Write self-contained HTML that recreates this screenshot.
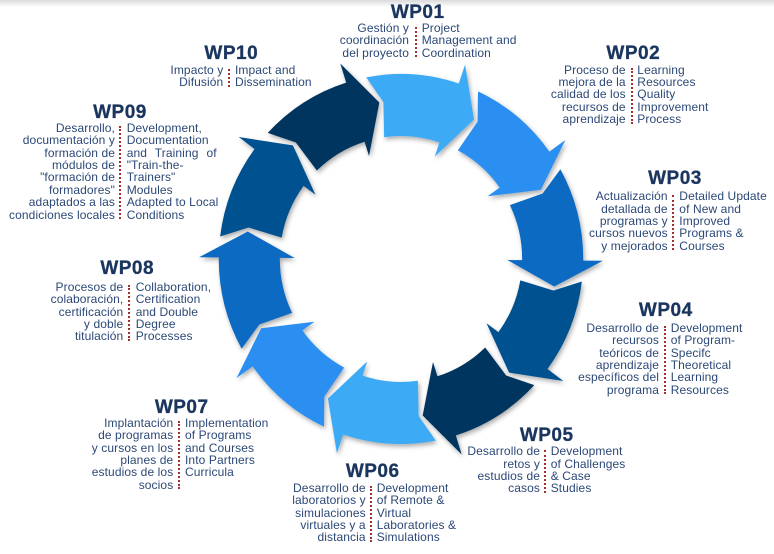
<!DOCTYPE html>
<html><head><meta charset="utf-8"><style>
html,body{margin:0;padding:0}
body{width:774px;height:554px;position:relative;overflow:hidden;background:#fff;font-family:"Liberation Sans",Arial,sans-serif}
.top{position:absolute;left:0;top:0;width:774px;height:7px;background:linear-gradient(#dadada,rgba(255,255,255,0))}
svg{position:absolute;left:0;top:0}
.h{position:absolute;font-weight:bold;font-size:19px;line-height:19px;color:#1a355e;letter-spacing:0.5px;white-space:nowrap;transform:translateX(-50%);-webkit-text-stroke:0.3px #1a355e}
.s,.e{position:absolute;font-size:12px;line-height:12.4px;color:#2c4877;white-space:nowrap;letter-spacing:0.1px}
.s{text-align:right}
.e{text-align:left}
.d{position:absolute;width:0;border-left:2px dotted #a3302f}
.j{display:block;width:90px;text-align:justify;text-align-last:justify}
</style></head><body>
<div class="top"></div>
<svg width="774" height="554" viewBox="0 0 774 554">
<defs>
<filter id="sh" x="-20%" y="-20%" width="140%" height="140%">
<feDropShadow dx="1.5" dy="2.5" stdDeviation="2.5" flood-color="#000" flood-opacity="0.33"/>
</filter>
</defs>
<g transform="translate(401,259) scale(0.985,1)" filter="url(#sh)">
<path fill="#3eaaf6" transform="rotate(0)" d="M-35.30,-181.60 A185,185 0 0 1 58.70,-175.44 L65.05,-194.41 L74.18,-139.51 L34.27,-102.42 L39.03,-116.64 A123,123 0 0 0 -17.12,-121.80 L-17.89,-156.98 Z"/>
<path fill="#2b8ff0" transform="rotate(36)" d="M-35.30,-181.60 A185,185 0 0 1 58.70,-175.44 L65.05,-194.41 L74.18,-139.51 L34.27,-102.42 L39.03,-116.64 A123,123 0 0 0 -17.12,-121.80 L-17.89,-156.98 Z"/>
<path fill="#0a6bc3" transform="rotate(72)" d="M-35.30,-181.60 A185,185 0 0 1 58.70,-175.44 L65.05,-194.41 L74.18,-139.51 L34.27,-102.42 L39.03,-116.64 A123,123 0 0 0 -17.12,-121.80 L-17.89,-156.98 Z"/>
<path fill="#04518f" transform="rotate(108)" d="M-35.30,-181.60 A185,185 0 0 1 58.70,-175.44 L65.05,-194.41 L74.18,-139.51 L34.27,-102.42 L39.03,-116.64 A123,123 0 0 0 -17.12,-121.80 L-17.89,-156.98 Z"/>
<path fill="#03345e" transform="rotate(144)" d="M-35.30,-181.60 A185,185 0 0 1 58.70,-175.44 L65.05,-194.41 L74.18,-139.51 L34.27,-102.42 L39.03,-116.64 A123,123 0 0 0 -17.12,-121.80 L-17.89,-156.98 Z"/>
<path fill="#3eaaf6" transform="rotate(180)" d="M-35.30,-181.60 A185,185 0 0 1 58.70,-175.44 L65.05,-194.41 L74.18,-139.51 L34.27,-102.42 L39.03,-116.64 A123,123 0 0 0 -17.12,-121.80 L-17.89,-156.98 Z"/>
<path fill="#2b8ff0" transform="rotate(216)" d="M-35.30,-181.60 A185,185 0 0 1 58.70,-175.44 L65.05,-194.41 L74.18,-139.51 L34.27,-102.42 L39.03,-116.64 A123,123 0 0 0 -17.12,-121.80 L-17.89,-156.98 Z"/>
<path fill="#0a6bc3" transform="rotate(252)" d="M-35.30,-181.60 A185,185 0 0 1 58.70,-175.44 L65.05,-194.41 L74.18,-139.51 L34.27,-102.42 L39.03,-116.64 A123,123 0 0 0 -17.12,-121.80 L-17.89,-156.98 Z"/>
<path fill="#04518f" transform="rotate(288)" d="M-35.30,-181.60 A185,185 0 0 1 58.70,-175.44 L65.05,-194.41 L74.18,-139.51 L34.27,-102.42 L39.03,-116.64 A123,123 0 0 0 -17.12,-121.80 L-17.89,-156.98 Z"/>
<path fill="#03345e" transform="rotate(324)" d="M-35.30,-181.60 A185,185 0 0 1 58.70,-175.44 L65.05,-194.41 L74.18,-139.51 L34.27,-102.42 L39.03,-116.64 A123,123 0 0 0 -17.12,-121.80 L-17.89,-156.98 Z"/>
</g>
</svg>

<!-- WP01 -->
<div class="h" style="left:417.7px;top:2.5px">WP01</div>
<div class="s" style="right:365px;top:22px">Gestión y<br>coordinación<br>del proyecto</div>
<div class="d" style="left:414.7px;top:26.5px;height:30.7px"></div>
<div class="e" style="left:421.7px;top:22px">Project<br>Management and<br>Coordination</div>

<!-- WP02 -->
<div class="h" style="left:633.3px;top:44.2px">WP02</div>
<div class="s" style="right:148.3px;top:63.5px">Proceso de<br>mejora de la<br>calidad de los<br>recursos de<br>aprendizaje</div>
<div class="d" style="left:630.7px;top:68px;height:55.5px"></div>
<div class="e" style="left:637.3px;top:63.5px">Learning<br>Resources<br>Quality<br>Improvement<br>Process</div>

<!-- WP03 -->
<div class="h" style="left:675px;top:169.2px">WP03</div>
<div class="s" style="right:106.3px;top:190.2px">Actualización<br>detallada de<br>programas y<br>cursos nuevos<br>y mejorados</div>
<div class="d" style="left:672.3px;top:194.7px;height:55.5px"></div>
<div class="e" style="left:679.3px;top:190.2px">Detailed Update<br>of New and<br>Improved<br>Programs &amp;<br>Courses</div>

<!-- WP04 -->
<div class="h" style="left:665.8px;top:300.5px">WP04</div>
<div class="s" style="right:115px;top:321.8px">Desarrollo de<br>recursos<br>teóricos de<br>aprendizaje<br>específicos del<br>programa</div>
<div class="d" style="left:664px;top:326.3px;height:67.9px"></div>
<div class="e" style="left:670.7px;top:321.8px">Development<br>of Program-<br>Specifc<br>Theoretical<br>Learning<br>Resources</div>

<!-- WP05 -->
<div class="h" style="left:546.7px;top:425.8px">WP05</div>
<div class="s" style="right:234px;top:445.2px">Desarrollo de<br>retos y<br>estudios de<br>casos</div>
<div class="d" style="left:544px;top:449.7px;height:43.1px"></div>
<div class="e" style="left:550.7px;top:445.2px">Development<br>of Challenges<br>&amp; Case<br>Studies</div>

<!-- WP06 -->
<div class="h" style="left:372.7px;top:461.5px">WP06</div>
<div class="s" style="right:408.3px;top:481.8px">Desarrollo de<br>laboratorios y<br>simulaciones<br>virtuales y a<br>distancia</div>
<div class="d" style="left:370px;top:486.3px;height:55.5px"></div>
<div class="e" style="left:376.7px;top:481.8px">Development<br>of Remote &amp;<br>Virtual<br>Laboratories &amp;<br>Simulations</div>

<!-- WP07 -->
<div class="h" style="left:181.7px;top:397.5px">WP07</div>
<div class="s" style="right:600.7px;top:416.8px">Implantación<br>de programas<br>y cursos en los<br>planes de<br>estudios de los<br>socios</div>
<div class="d" style="left:178px;top:421.3px;height:67.9px"></div>
<div class="e" style="left:185px;top:416.8px">Implementation<br>of Programs<br>and Courses<br>Into Partners<br>Curricula</div>

<!-- WP08 -->
<div class="h" style="left:127.2px;top:259.2px">WP08</div>
<div class="s" style="right:650.7px;top:280.8px">Procesos de<br>colaboración,<br>certificación<br>y doble<br>titulación</div>
<div class="d" style="left:128.3px;top:285.3px;height:55.5px"></div>
<div class="e" style="left:135.7px;top:280.8px">Collaboration,<br>Certification<br>and Double<br>Degree<br>Processes</div>

<!-- WP09 -->
<div class="h" style="left:120px;top:102.5px">WP09</div>
<div class="s" style="right:659px;top:121.8px">Desarrollo,<br>documentación y<br>formación de<br>módulos de<br>"formación de<br>formadores"<br>adaptados a las<br>condiciones locales</div>
<div class="d" style="left:119px;top:126.3px;height:92.7px"></div>
<div class="e" style="left:126.7px;top:121.8px">Development,<br>Documentation<br><span class="j">and Training of</span>"Train-the-<br>Trainers"<br>Modules<br>Adapted to Local<br>Conditions</div>

<!-- WP10 -->
<div class="h" style="left:231.3px;top:44.2px">WP10</div>
<div class="s" style="right:550.7px;top:64px">Impacto y<br>Difusión</div>
<div class="d" style="left:228px;top:68.5px;height:18.3px"></div>
<div class="e" style="left:235px;top:64px">Impact and<br>Dissemination</div>

</body></html>
